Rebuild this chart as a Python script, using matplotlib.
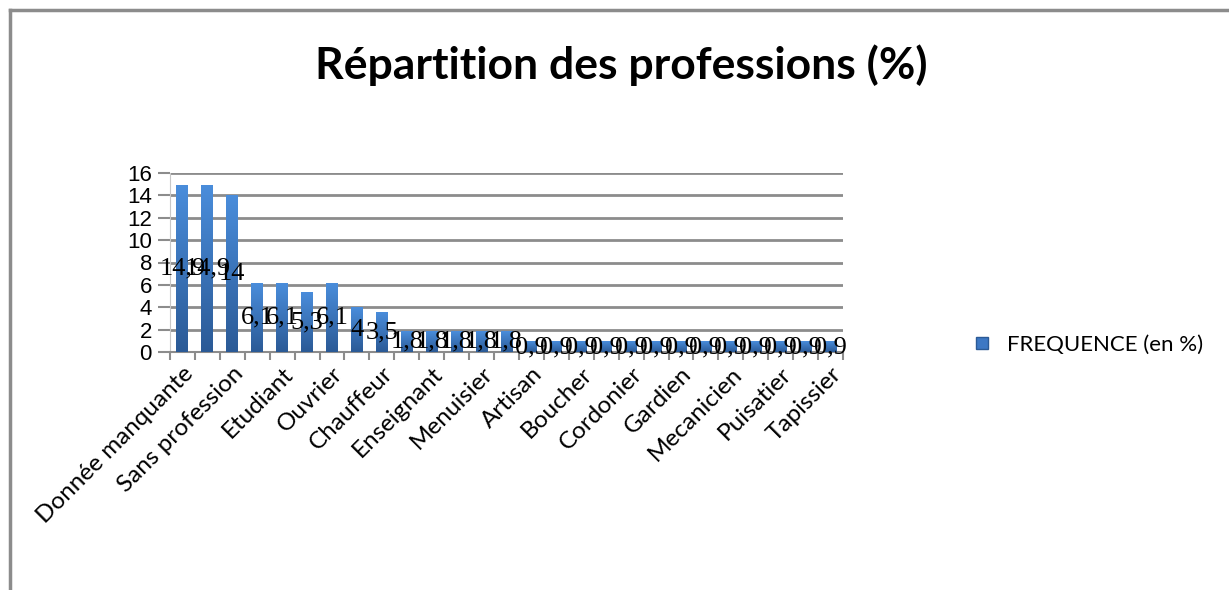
import numpy as np
import matplotlib
matplotlib.use('Agg')
import matplotlib.pyplot as plt
from matplotlib.colors import LinearSegmentedColormap
from matplotlib.lines import Line2D

professions = ['Donnée manquante', '', 'Sans profession', '', 'Etudiant', '', 'Ouvrier', '',
               'Chauffeur', '', 'Enseignant', '', 'Menuisier', '', 'Artisan', '', 'Boucher', '',
               'Cordonier', '', 'Gardien', '', 'Mecanicien', '', 'Puisatier', '', 'Tapissier']
frequence = [14.9, 14.9, 14, 6.1, 6.1, 5.3, 6.1, 4, 3.5, 1.8, 1.8, 1.8, 1.8, 1.8,
             0.9, 0.9, 0.9, 0.9, 0.9, 0.9, 0.9, 0.9, 0.9, 0.9, 0.9, 0.9, 0.9]
yticks = [0, 2, 4, 6, 8, 10, 12, 14, 16]

fig = plt.figure(figsize=(12.29, 5.9), dpi=100)
ax = fig.add_axes([170 / 1229, 1 - 352 / 590, 673 / 1229, 179 / 590])

x = np.arange(len(frequence))
bars = ax.bar(x, frequence, width=0.48, color='#3d78c4', zorder=3)

# gradient fill, light on top, dark at bottom
cmap = LinearSegmentedColormap.from_list('blu', ['#2b5a96', '#4a8ddb'])
grad = np.linspace(0, 1, 256).reshape(-1, 1)
for b in bars:
    x0, w, h = b.get_x(), b.get_width(), b.get_height()
    ax.imshow(grad, cmap=cmap, extent=[x0, x0 + w, 0, h], origin='lower',
              aspect='auto', zorder=3.5)
ax.set_xlim(-0.5, len(frequence) - 0.5)
ax.set_ylim(0, 16)

# data labels, centred on each bar (they overlap, as in the original)
for xi, v in zip(x, frequence):
    txt = ('%g' % v).replace('.', ',')
    ax.text(xi, v / 2, txt, ha='center', va='center', fontsize=19,
            family='Liberation Serif', color='black', zorder=5)

ax.set_yticks(yticks)
ax.set_yticklabels([str(t) for t in yticks], family='Liberation Sans', fontsize=16)
ax.yaxis.grid(True, color='#8c8c8c', linewidth=2, zorder=0)
ax.tick_params(axis='y', length=9, width=1.5, color='#8c8c8c', pad=4)

ax.set_xticks(x)
ax.set_xticklabels(professions, rotation=45, ha='right', rotation_mode='anchor',
                   family='Lato', fontsize=17.5)
ax.set_xticks(np.arange(-0.5, len(frequence)), minor=True)
ax.tick_params(axis='x', which='major', length=0, pad=8)
ax.tick_params(axis='x', which='minor', length=6, width=1.5, color='#8c8c8c')

for s in ['top', 'right']:
    ax.spines[s].set_visible(False)
ax.spines['left'].set_color('#c8c8c8')
ax.spines['bottom'].set_color('#8c8c8c')
ax.spines['bottom'].set_linewidth(1.5)

fig.text(621 / 1229, 1 - 65 / 590, 'Répartition des professions (%)', ha='center',
         va='center', fontsize=32, fontweight='bold', family='Lato')

handle = Line2D([], [], marker='s', linestyle='none', markersize=9,
                markerfacecolor='#3d78c4', markeredgecolor='#2b5a96')
fig.legend([handle], ['FREQUENCE (en %)'], loc='center left',
           bbox_to_anchor=(940 / 1229, 1 - 345 / 590), frameon=False,
           prop={'family': 'Lato', 'size': 16}, handletextpad=0.1)

# chart frame (top and left edges)
fig.add_artist(Line2D([10 / 1229, 1], [1 - 10 / 590] * 2, color='#8c8c8c', lw=2.5))
fig.add_artist(Line2D([10 / 1229] * 2, [0, 1 - 10 / 590], color='#8c8c8c', lw=2.5))

fig.savefig('out.png', dpi=100, facecolor='white')
